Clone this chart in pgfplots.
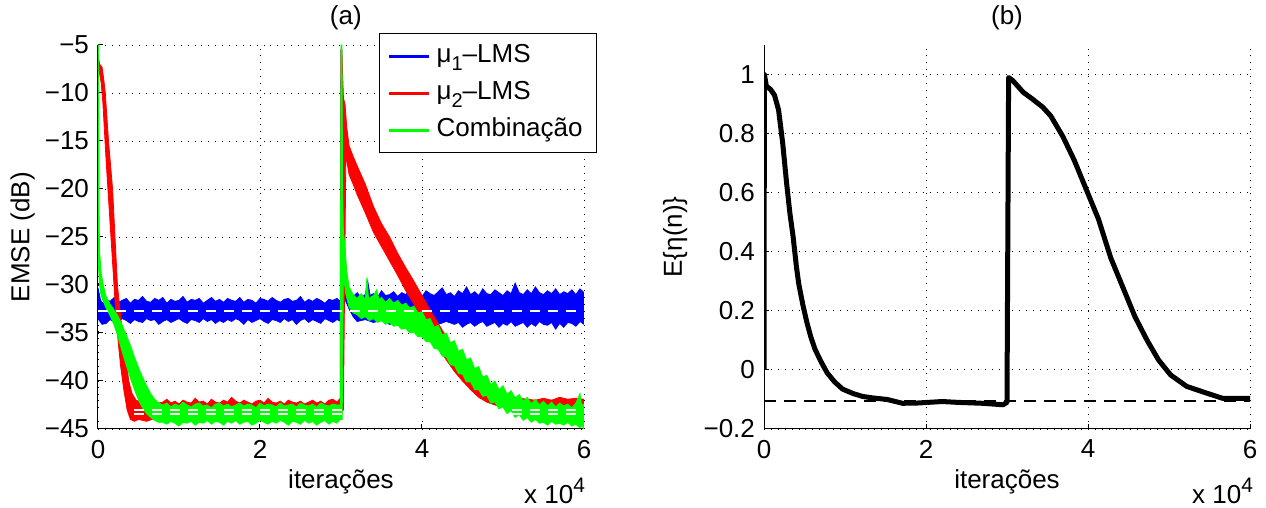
\documentclass[border=0pt]{standalone}
\usepackage{fontspec}
\setmainfont{Liberation Sans}
\usepackage{pgfplots}
\pgfplotsset{compat=1.18}
\pgfplotsset{
  mystyle/.style={
    scale only axis, width=243pt, height=192pt,
    axis x line*=bottom, axis y line*=left,
    tick align=inside, major tick length=2.5pt,
    axis line style={line width=0.5pt},
    every tick/.style={black, line width=0.5pt},
    grid=major,
    major grid style={black, line width=0.45pt, dash pattern=on 0.45pt off 3pt},
    xmin=0, xmax=6, xtick={0,2,4,6}, xticklabels={0,2,4,6},
    font=\fontsize{13}{15.6}\selectfont,
    xticklabel style={yshift=-2pt},
    yticklabel style={xshift=-1pt},
    xlabel={iterações},
    xlabel style={at={(axis description cs:0.5,-0.138)}, anchor=center},
    clip mode=individual,
  }
}
\newcommand{\xten}{x 10\raisebox{0.85ex}{\fontsize{10.5}{12}\selectfont 4}}
\begin{document}
\begin{tikzpicture}
\useasboundingbox (-49pt,-39.5pt) rectangle (584pt,214.5pt);
\begin{axis}[mystyle, at={(0pt,0pt)}, anchor=south west,
  ymin=-45, ymax=-5, ytick={-45,-40,-35,-30,-25,-20,-15,-10,-5},
  yticklabels={−45,−40,−35,−30,−25,−20,−15,−10,−5},
  ylabel={EMSE (dB)},
  ylabel style={at={(axis description cs:-0.155,0.5)}, anchor=center},
  legend style={at={(rel axis cs:1.027,1.031)}, anchor=north east, draw=black, line width=0.5pt, fill=white,
    inner xsep=4pt, inner ysep=2pt, row sep=0pt,
    nodes={inner sep=3pt, text height=9.5pt, text depth=3pt, anchor=west},
    font=\fontsize{13}{15.6}\selectfont},
  legend cell align=left,
  legend image code/.code={\draw[#1] (0pt,0pt) -- (20pt,0pt);},
]
\addlegendimage{blue, line width=1.5pt}
\addlegendentry{μ\raisebox{-0.55ex}{\fontsize{10}{12}\selectfont 1}–LMS}
\addlegendimage{red, line width=1.5pt}
\addlegendentry{μ\raisebox{-0.55ex}{\fontsize{10}{12}\selectfont 2}–LMS}
\addlegendimage{green, line width=1.5pt}
\addlegendentry{Combinação}
% mu1-LMS band
\addplot[fill=blue, draw=blue, line width=0.4pt, forget plot] coordinates {
(0,-30.3) (0.03,-31.5)
(0.05,-31.9) (0.1,-31.5) (0.15,-31.7) (0.2,-31.3) (0.25,-31.8) (0.3,-31.6) (0.35,-31.4) (0.4,-31.9) (0.45,-31.5) (0.5,-31.6) (0.55,-31.2) (0.6,-31.7) (0.65,-31.8) (0.7,-31.4) (0.75,-31.6) (0.8,-31.3) (0.85,-31.9) (0.9,-31.5) (0.95,-31.7) (1.0,-31.6) (1.05,-31.2) (1.1,-31.8) (1.15,-31.5) (1.2,-31.6) (1.25,-31.4) (1.3,-31.9) (1.35,-31.6) (1.4,-31.3) (1.45,-31.7) (1.5,-31.5) (1.55,-31.8) (1.6,-31.4) (1.65,-31.6) (1.7,-31.7) (1.75,-31.3) (1.8,-31.8) (1.85,-31.5) (1.9,-31.6) (1.95,-31.9) (2.0,-31.4) (2.05,-31.5) (2.1,-31.7) (2.15,-31.3) (2.2,-31.6) (2.25,-31.8) (2.3,-31.5) (2.35,-31.4) (2.4,-31.7) (2.45,-31.6) (2.5,-31.2) (2.55,-31.8) (2.6,-31.5) (2.65,-31.7) (2.7,-31.4) (2.75,-31.6) (2.8,-31.9) (2.85,-31.5) (2.9,-31.6) (2.95,-31.4) (2.99,-31.7)
(3.0,-5.5) (3.01,-5.5) (3.03,-27.0) (3.05,-28.5) (3.08,-30.5) (3.12,-31.5)
(3.15,-31.2) (3.2,-30.8) (3.25,-31.3) (3.3,-31.0) (3.33,-29.6) (3.36,-31.1) (3.4,-30.9) (3.45,-31.3) (3.5,-30.6) (3.55,-31.1) (3.6,-31.0) (3.65,-30.7) (3.7,-31.2) (3.75,-30.8) (3.8,-31.0) (3.85,-30.5) (3.9,-31.1) (3.95,-30.9) (4.0,-31.2) (4.05,-30.6) (4.1,-30.9) (4.15,-31.1) (4.2,-30.7) (4.25,-30.3) (4.3,-31.0) (4.35,-30.8) (4.4,-31.2) (4.45,-30.6) (4.5,-30.9) (4.55,-30.2) (4.6,-31.0) (4.65,-30.7) (4.7,-31.1) (4.75,-30.4) (4.8,-30.9) (4.85,-31.0) (4.9,-30.5) (4.95,-30.8) (5.0,-31.1) (5.05,-30.6) (5.1,-30.9) (5.15,-29.8) (5.2,-30.8) (5.25,-31.0) (5.3,-30.5) (5.35,-30.9) (5.4,-30.2) (5.45,-30.8) (5.5,-31.0) (5.55,-30.6) (5.6,-30.9) (5.65,-30.4) (5.7,-31.0) (5.75,-30.7) (5.8,-30.9) (5.85,-30.5) (5.9,-31.0) (5.95,-30.4) (6.0,-30.8)
(6.0,-34.1) (5.95,-33.8) (5.9,-34.3) (5.85,-34.0) (5.8,-33.9) (5.75,-34.4) (5.7,-34.0) (5.65,-34.6) (5.6,-33.9) (5.55,-34.2) (5.5,-34.1) (5.45,-33.8) (5.4,-34.3) (5.35,-34.0) (5.3,-34.4) (5.25,-33.9) (5.2,-34.1) (5.15,-34.3) (5.1,-33.8) (5.05,-34.2) (5.0,-34.0) (4.95,-34.4) (4.9,-33.9) (4.85,-34.1) (4.8,-34.3) (4.75,-33.8) (4.7,-34.0) (4.65,-34.3) (4.6,-33.9) (4.55,-34.1) (4.5,-34.4) (4.45,-33.9) (4.4,-34.1) (4.3,-33.8) (4.2,-34.1) (4.1,-33.8) (4.0,-34.0) (3.9,-33.7) (3.8,-34.0) (3.7,-33.8) (3.6,-34.1) (3.5,-33.7) (3.4,-33.9) (3.3,-33.6) (3.2,-33.8) (3.15,-33.3) (3.1,-32.5) (3.05,-31.5) (3.02,-33.0) (3.0,-33.8)
(2.95,-33.6) (2.9,-33.9) (2.85,-33.7) (2.8,-33.5) (2.75,-34.0) (2.7,-33.8) (2.65,-33.6) (2.6,-33.9) (2.55,-33.5) (2.5,-33.7) (2.45,-34.1) (2.4,-33.6) (2.35,-33.8) (2.3,-33.5) (2.25,-33.9) (2.2,-33.7) (2.15,-33.6) (2.1,-34.0) (2.05,-33.8) (2.0,-33.5) (1.95,-33.7) (1.9,-33.9) (1.85,-33.6) (1.8,-34.1) (1.75,-33.7) (1.7,-33.5) (1.65,-33.8) (1.6,-33.6) (1.55,-33.9) (1.5,-33.7) (1.45,-34.0) (1.4,-33.6) (1.35,-33.8) (1.3,-33.5) (1.25,-33.9) (1.2,-33.7) (1.15,-33.6) (1.1,-34.0) (1.05,-33.8) (1.0,-33.5) (0.95,-33.7) (0.9,-33.9) (0.85,-33.6) (0.8,-33.8) (0.75,-34.1) (0.7,-33.6) (0.65,-33.7) (0.6,-33.5) (0.55,-33.9) (0.5,-33.8) (0.45,-33.6) (0.4,-34.0) (0.35,-33.7) (0.3,-33.5) (0.25,-33.8) (0.2,-33.9) (0.15,-33.6) (0.1,-34.0) (0.05,-34.1) (0.0,-33.5)
};
% mu2-LMS band
\addplot[fill=red, draw=red, line width=0.4pt, forget plot] coordinates {
(0.0,-6.0) (0.02,-7.0) (0.05,-7.3) (0.07,-8.5) (0.09,-10.0) (0.11,-12.5) (0.13,-15.0) (0.155,-17.5) (0.18,-20.0) (0.195,-22.5) (0.21,-25.0) (0.225,-27.5) (0.24,-30.0) (0.27,-32.5) (0.30,-35.0) (0.34,-37.5) (0.38,-40.0) (0.42,-41.3) (0.47,-42.0) (0.55,-42.3)
(0.6,-42.2) (0.65,-42.4) (0.7,-42.0) (0.75,-42.3) (0.8,-42.2) (0.85,-41.9) (0.9,-42.3) (0.95,-42.1) (1.0,-42.4) (1.05,-42.0) (1.1,-42.2) (1.15,-42.3) (1.2,-41.8) (1.25,-42.2) (1.3,-42.1) (1.35,-42.4) (1.4,-41.9) (1.45,-42.2) (1.5,-42.3) (1.55,-42.0) (1.6,-42.2) (1.65,-41.7) (1.7,-42.1) (1.75,-42.3) (1.8,-42.0) (1.85,-42.2) (1.9,-42.4) (1.95,-42.1) (2.0,-42.0) (2.05,-42.3) (2.1,-41.8) (2.15,-42.2) (2.2,-42.3) (2.25,-42.1) (2.3,-42.4) (2.35,-42.0) (2.4,-42.2) (2.45,-42.3) (2.5,-42.1) (2.55,-42.4) (2.6,-42.2) (2.65,-42.0) (2.7,-42.3) (2.75,-42.1) (2.8,-42.4) (2.85,-42.0) (2.9,-41.9) (2.95,-42.2) (2.99,-41.8)
(3.0,-5.5) (3.01,-5.5) (3.03,-10.5) (3.05,-11.2) (3.07,-13.5) (3.1,-15.5)
(3.15,-16.6) (3.2,-17.6) (3.3,-19.5) (3.4,-21.8) (3.5,-23.6) (3.6,-25.0) (3.7,-26.7) (3.8,-28.2) (3.9,-29.6) (4.0,-31.1) (4.1,-32.6) (4.2,-34.0) (4.3,-35.4) (4.4,-36.6) (4.5,-37.8) (4.6,-38.8) (4.7,-39.7) (4.8,-40.4) (4.9,-40.9) (5.0,-41.3) (5.1,-41.6) (5.2,-41.8) (5.3,-41.9) (5.4,-42.0) (5.5,-41.8) (5.6,-42.0) (5.7,-41.7) (5.8,-41.9) (5.9,-41.8) (6.0,-41.9)
(6.0,-44.2) (5.9,-44.0) (5.8,-44.1) (5.7,-43.9) (5.6,-43.8) (5.5,-43.6) (5.4,-43.4) (5.3,-43.2) (5.2,-43.0) (5.1,-43.0) (5.0,-42.7) (4.9,-42.5) (4.8,-42.2) (4.7,-41.7) (4.6,-40.9) (4.5,-40.0) (4.4,-39.0) (4.3,-37.8) (4.2,-36.5) (4.1,-35.0) (4.0,-33.5) (3.9,-32.0) (3.8,-30.6) (3.7,-29.0) (3.6,-27.5) (3.5,-26.0) (3.4,-24.5) (3.3,-22.5) (3.2,-20.6) (3.15,-19.5) (3.1,-18.5) (3.06,-16.5) (3.03,-43.0)
(2.95,-43.8) (2.8,-44.0) (2.6,-43.8) (2.4,-44.0) (2.2,-43.8) (2.0,-44.0) (1.8,-43.8) (1.6,-44.0) (1.4,-43.8) (1.2,-44.0) (1.0,-43.9) (0.9,-43.9) (0.8,-44.1) (0.7,-43.9) (0.6,-44.2) (0.5,-44.0) (0.45,-44.2) (0.4,-44.0) (0.36,-43.0) (0.32,-41.0) (0.28,-38.5) (0.25,-36.0) (0.22,-33.0) (0.19,-29.0) (0.16,-25.0) (0.13,-21.0) (0.1,-17.0) (0.08,-14.0) (0.06,-11.0) (0.04,-9.0) (0.02,-8.0) (0.0,-7.5)
};
% combination band
\addplot[fill=green, draw=green, line width=0.4pt, forget plot] coordinates {
(0.0,-5.0) (0.008,-5.0) (0.012,-22.0) (0.02,-26.5) (0.04,-28.8) (0.07,-30.2) (0.1,-31.2) (0.15,-32.0) (0.2,-32.6) (0.25,-33.3) (0.3,-34.2) (0.35,-35.2) (0.4,-36.3) (0.45,-37.5) (0.5,-38.6) (0.55,-39.6) (0.6,-40.5) (0.65,-41.3) (0.7,-41.9) (0.75,-42.3)
(0.8,-42.5) (0.85,-42.3) (0.9,-42.7) (0.95,-42.4) (1.0,-42.6) (1.05,-42.2) (1.1,-42.5) (1.15,-42.7) (1.2,-42.4) (1.25,-42.3) (1.3,-42.6) (1.35,-42.5) (1.4,-42.8) (1.45,-42.4) (1.5,-42.3) (1.55,-42.6) (1.6,-42.4) (1.65,-42.7) (1.7,-42.5) (1.75,-42.3) (1.8,-42.6) (1.85,-42.4) (1.9,-42.5) (1.95,-42.8) (2.0,-42.3) (2.05,-42.6) (2.1,-42.4) (2.15,-42.5) (2.2,-42.7) (2.25,-42.3) (2.3,-42.6) (2.35,-42.5) (2.4,-42.4) (2.45,-42.7) (2.5,-42.3) (2.55,-42.5) (2.6,-42.6) (2.65,-42.4) (2.7,-42.7) (2.75,-42.3) (2.8,-42.5) (2.85,-42.6) (2.9,-42.4) (2.95,-42.5) (2.99,-42.5)
(3.0,-5.0) (3.012,-5.0) (3.02,-20.0) (3.03,-24.5) (3.05,-26.0) (3.07,-28.5) (3.1,-30.2)
(3.15,-31.0) (3.2,-31.4) (3.25,-30.9) (3.3,-31.5) (3.32,-29.2) (3.34,-31.4) (3.4,-31.1) (3.44,-30.5) (3.47,-31.5) (3.5,-31.3) (3.55,-31.8) (3.6,-31.4) (3.65,-31.9) (3.7,-31.6) (3.75,-32.1) (3.8,-31.9) (3.85,-32.4) (3.9,-32.2) (3.95,-32.9) (4.0,-32.8) (4.05,-33.6) (4.1,-33.5) (4.15,-34.4) (4.2,-34.2) (4.25,-35.2) (4.3,-35.0) (4.35,-36.0) (4.4,-35.8) (4.45,-36.9) (4.5,-36.7) (4.55,-37.8) (4.6,-37.6) (4.65,-38.7) (4.7,-38.5) (4.75,-39.6) (4.8,-39.4) (4.85,-40.4) (4.9,-40.0) (4.95,-40.9) (5.0,-40.5) (5.05,-41.4) (5.1,-41.0) (5.15,-41.8) (5.2,-41.4) (5.25,-42.1) (5.3,-41.7) (5.35,-42.4) (5.4,-41.9) (5.45,-42.5) (5.5,-42.1) (5.55,-42.6) (5.6,-42.2) (5.65,-42.7) (5.7,-42.3) (5.75,-42.6) (5.8,-42.4) (5.85,-42.8) (5.9,-42.3) (5.95,-41.3) (5.97,-42.5) (6.0,-42.4)
(6.0,-45.0) (5.97,-44.6) (5.95,-44.9) (5.9,-44.5) (5.85,-44.7) (5.8,-44.3) (5.75,-44.6) (5.7,-44.4) (5.65,-44.5) (5.6,-44.2) (5.55,-44.6) (5.5,-44.3) (5.45,-44.4) (5.4,-44.0) (5.35,-44.3) (5.3,-43.8) (5.25,-44.1) (5.2,-43.5) (5.15,-43.8) (5.1,-43.1) (5.05,-43.4) (5.0,-42.7) (4.95,-42.9) (4.9,-42.2) (4.85,-42.3) (4.8,-41.5) (4.75,-41.6) (4.7,-40.9) (4.65,-40.9) (4.6,-40.1) (4.55,-40.1) (4.5,-39.3) (4.45,-39.2) (4.4,-38.4) (4.35,-38.3) (4.3,-37.5) (4.25,-37.4) (4.2,-36.7) (4.15,-36.6) (4.1,-35.9) (4.05,-35.9) (4.0,-35.4) (3.95,-35.4) (3.9,-34.9) (3.85,-35.0) (3.8,-34.5) (3.75,-34.6) (3.7,-34.2) (3.65,-34.3) (3.6,-33.9) (3.55,-34.1) (3.5,-33.7) (3.45,-33.9) (3.4,-33.5) (3.35,-33.7) (3.3,-33.3) (3.25,-33.5) (3.2,-33.1) (3.15,-32.9) (3.1,-32.3) (3.06,-31.0) (3.03,-29.0) (3.015,-44.0)
(2.99,-44.0) (2.95,-44.4) (2.9,-44.2) (2.85,-44.5) (2.8,-44.1) (2.75,-44.3) (2.7,-44.6) (2.65,-44.2) (2.6,-44.4) (2.55,-44.1) (2.5,-44.5) (2.45,-44.3) (2.4,-44.2) (2.35,-44.6) (2.3,-44.3) (2.25,-44.1) (2.2,-44.4) (2.15,-44.2) (2.1,-44.5) (2.05,-44.3) (2.0,-44.1) (1.95,-44.4) (1.9,-44.6) (1.85,-44.2) (1.8,-44.3) (1.75,-44.5) (1.7,-44.1) (1.65,-44.4) (1.6,-44.2) (1.55,-44.6) (1.5,-44.3) (1.45,-44.2) (1.4,-44.5) (1.35,-44.1) (1.3,-44.4) (1.25,-44.3) (1.2,-44.6) (1.15,-44.2) (1.1,-44.4) (1.05,-44.3) (1.0,-44.7) (0.95,-44.4) (0.9,-44.2) (0.85,-44.5) (0.8,-44.3) (0.75,-44.3) (0.7,-44.1) (0.65,-43.8) (0.6,-43.4) (0.55,-42.8) (0.5,-42.0) (0.45,-40.9) (0.4,-39.7) (0.35,-38.4) (0.3,-37.0) (0.25,-35.5) (0.2,-34.2) (0.15,-33.2) (0.1,-32.4) (0.06,-31.6) (0.03,-30.8) (0.015,-29.5) (0.005,-28) (0.0,-27)
};
% theoretical levels
\addplot[white, line width=1pt, dash pattern=on 5pt off 4pt, forget plot] coordinates {(0,-32.7) (6,-32.7)};
\addplot[white, line width=0.8pt, dash pattern=on 5pt off 4pt, forget plot] coordinates {(0,-43.0) (6,-43.0)};
\addplot[white, line width=0.8pt, dash pattern=on 5pt off 4pt, forget plot] coordinates {(0,-43.45) (6,-43.45)};
\node[anchor=base east] at (rel axis cs:1,0) [xshift=4pt, yshift=-37.5pt] {\xten};
\node[anchor=center] at (rel axis cs:0.51,1.07) {(a)};
\end{axis}
\begin{axis}[mystyle, at={(333pt,0pt)}, anchor=south west,
  ymin=-0.2, ymax=1.1, ytick={-0.2,0,0.2,0.4,0.6,0.8,1},
  yticklabels={−0.2,0,0.2,0.4,0.6,0.8,1},
  ylabel={E\{η(n)\}},
  ylabel style={at={(axis description cs:-0.183,0.5)}, anchor=center},
]
\addplot[black, line width=1pt, dash pattern=on 6pt off 4pt] coordinates {(0,-0.105) (6,-0.105)};
\addplot[black, line width=2.5pt, line join=round] coordinates {
(0,0.0) (0.005,1.0) (0.03,0.96) (0.08,0.95) (0.13,0.93) (0.18,0.88) (0.23,0.77) (0.28,0.63) (0.32,0.53) (0.36,0.45) (0.40,0.35) (0.43,0.29) (0.48,0.22) (0.53,0.16) (0.58,0.11) (0.63,0.07) (0.70,0.03) (0.78,-0.01) (0.87,-0.04) (0.97,-0.065) (1.1,-0.08) (1.22,-0.09) (1.35,-0.095) (1.52,-0.10) (1.71,-0.113) (1.9,-0.112) (2.2,-0.107) (2.4,-0.11) (2.7,-0.113) (2.95,-0.118) (3.0,-0.11)
(3.02,0.99) (3.07,0.98) (3.2,0.94) (3.3,0.92) (3.44,0.89) (3.54,0.86) (3.69,0.79) (3.83,0.71) (3.98,0.61) (4.13,0.51) (4.28,0.38) (4.43,0.28) (4.58,0.18) (4.73,0.10) (4.87,0.034) (5.02,-0.017) (5.22,-0.056) (5.47,-0.079) (5.66,-0.096) (5.86,-0.096) (6.0,-0.096)
};
\node[anchor=base east] at (rel axis cs:1,0) [xshift=5pt, yshift=-37.5pt] {\xten};
\node[anchor=center] at (rel axis cs:0.5,1.07) {(b)};
\end{axis}
\end{tikzpicture}
\end{document}
